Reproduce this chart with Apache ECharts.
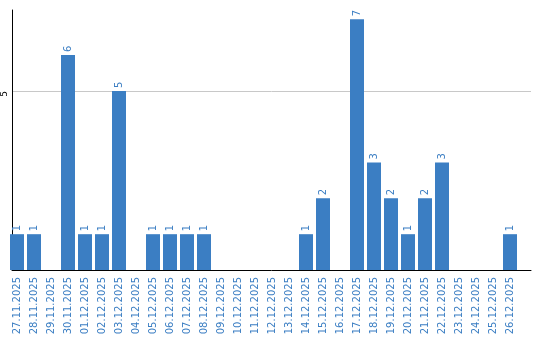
<!DOCTYPE html>
<html><head><meta charset="utf-8">
<script src="https://cdn.jsdelivr.net/npm/echarts@6/dist/echarts.min.js"></script>
<style>html,body{margin:0;padding:0;background:#fff}#c{width:540px;height:340px}</style>
</head><body><div id="c"></div>
<script>
const categories = ['27.11.2025','28.11.2025','29.11.2025','30.11.2025','01.12.2025','02.12.2025','03.12.2025','04.12.2025','05.12.2025','06.12.2025','07.12.2025','08.12.2025','09.12.2025','10.12.2025','11.12.2025','12.12.2025','13.12.2025','14.12.2025','15.12.2025','16.12.2025','17.12.2025','18.12.2025','19.12.2025','20.12.2025','21.12.2025','22.12.2025','23.12.2025','24.12.2025','25.12.2025','26.12.2025'];
const values = [1,1,0,6,1,1,5,0,1,1,1,1,0,0,0,0,0,1,2,0,7,3,2,1,2,3,0,0,0,1];
const yTicks = [0,5];

const blue = '#3b7ec3';
const yMax = 7.26;
const chart = echarts.init(document.getElementById('c'), null, {renderer:'canvas'});
chart.setOption({
  animation: false,
  grid: [
    {left: 10, right: 9, top: 10, bottom: 70, containLabel: false},
    {left: 8.5, right: 21.5, top: 10, bottom: 70, containLabel: false}
  ],
  xAxis: [{
    gridIndex: 0, type: 'category', data: categories,
    axisLine: {show: true, lineStyle: {color: '#000', width: 1}},
    axisTick: {show: false}, axisLabel: {show: false}, splitLine: {show: false}
  }, {
    gridIndex: 1, type: 'category', data: categories,
    axisLine: {show: false},
    axisTick: {show: false},
    axisLabel: {interval: 0, rotate: 90, margin: 7, color: blue, fontFamily: 'DejaVu Sans', fontSize: 10}
  }],
  yAxis: [{
    gridIndex: 0, type: 'value', min: 0, max: yMax, interval: 5,
    axisLine: {show: true, lineStyle: {color: '#000', width: 1}},
    axisTick: {show: false},
    axisLabel: {rotate: 90, margin: 3, color: '#000', fontFamily: 'DejaVu Sans', fontSize: 9,
      showMinLabel: false, showMaxLabel: false,
      formatter: v => yTicks.includes(v) ? String(v) + '  ' : ''},
    splitLine: {show: true, lineStyle: {color: ['rgba(0,0,0,0)', '#c8c8c8', 'rgba(0,0,0,0)'], width: 1}}
  }, {
    gridIndex: 1, type: 'value', min: 0, max: yMax, interval: 5,
    axisLine: {show: false}, axisTick: {show: false}, axisLabel: {show: false}, splitLine: {show: false}
  }],
  series: [{
    type: 'bar', xAxisIndex: 1, yAxisIndex: 1, data: values, barWidth: 14,
    itemStyle: {color: blue},
    label: {show: true, position: 'top', rotate: 90, align: 'left', verticalAlign: 'middle', distance: 3,
      color: blue, fontFamily: 'DejaVu Sans', fontSize: 10,
      formatter: p => p.value ? String(p.value) : ''}
  }]
});
</script></body></html>
